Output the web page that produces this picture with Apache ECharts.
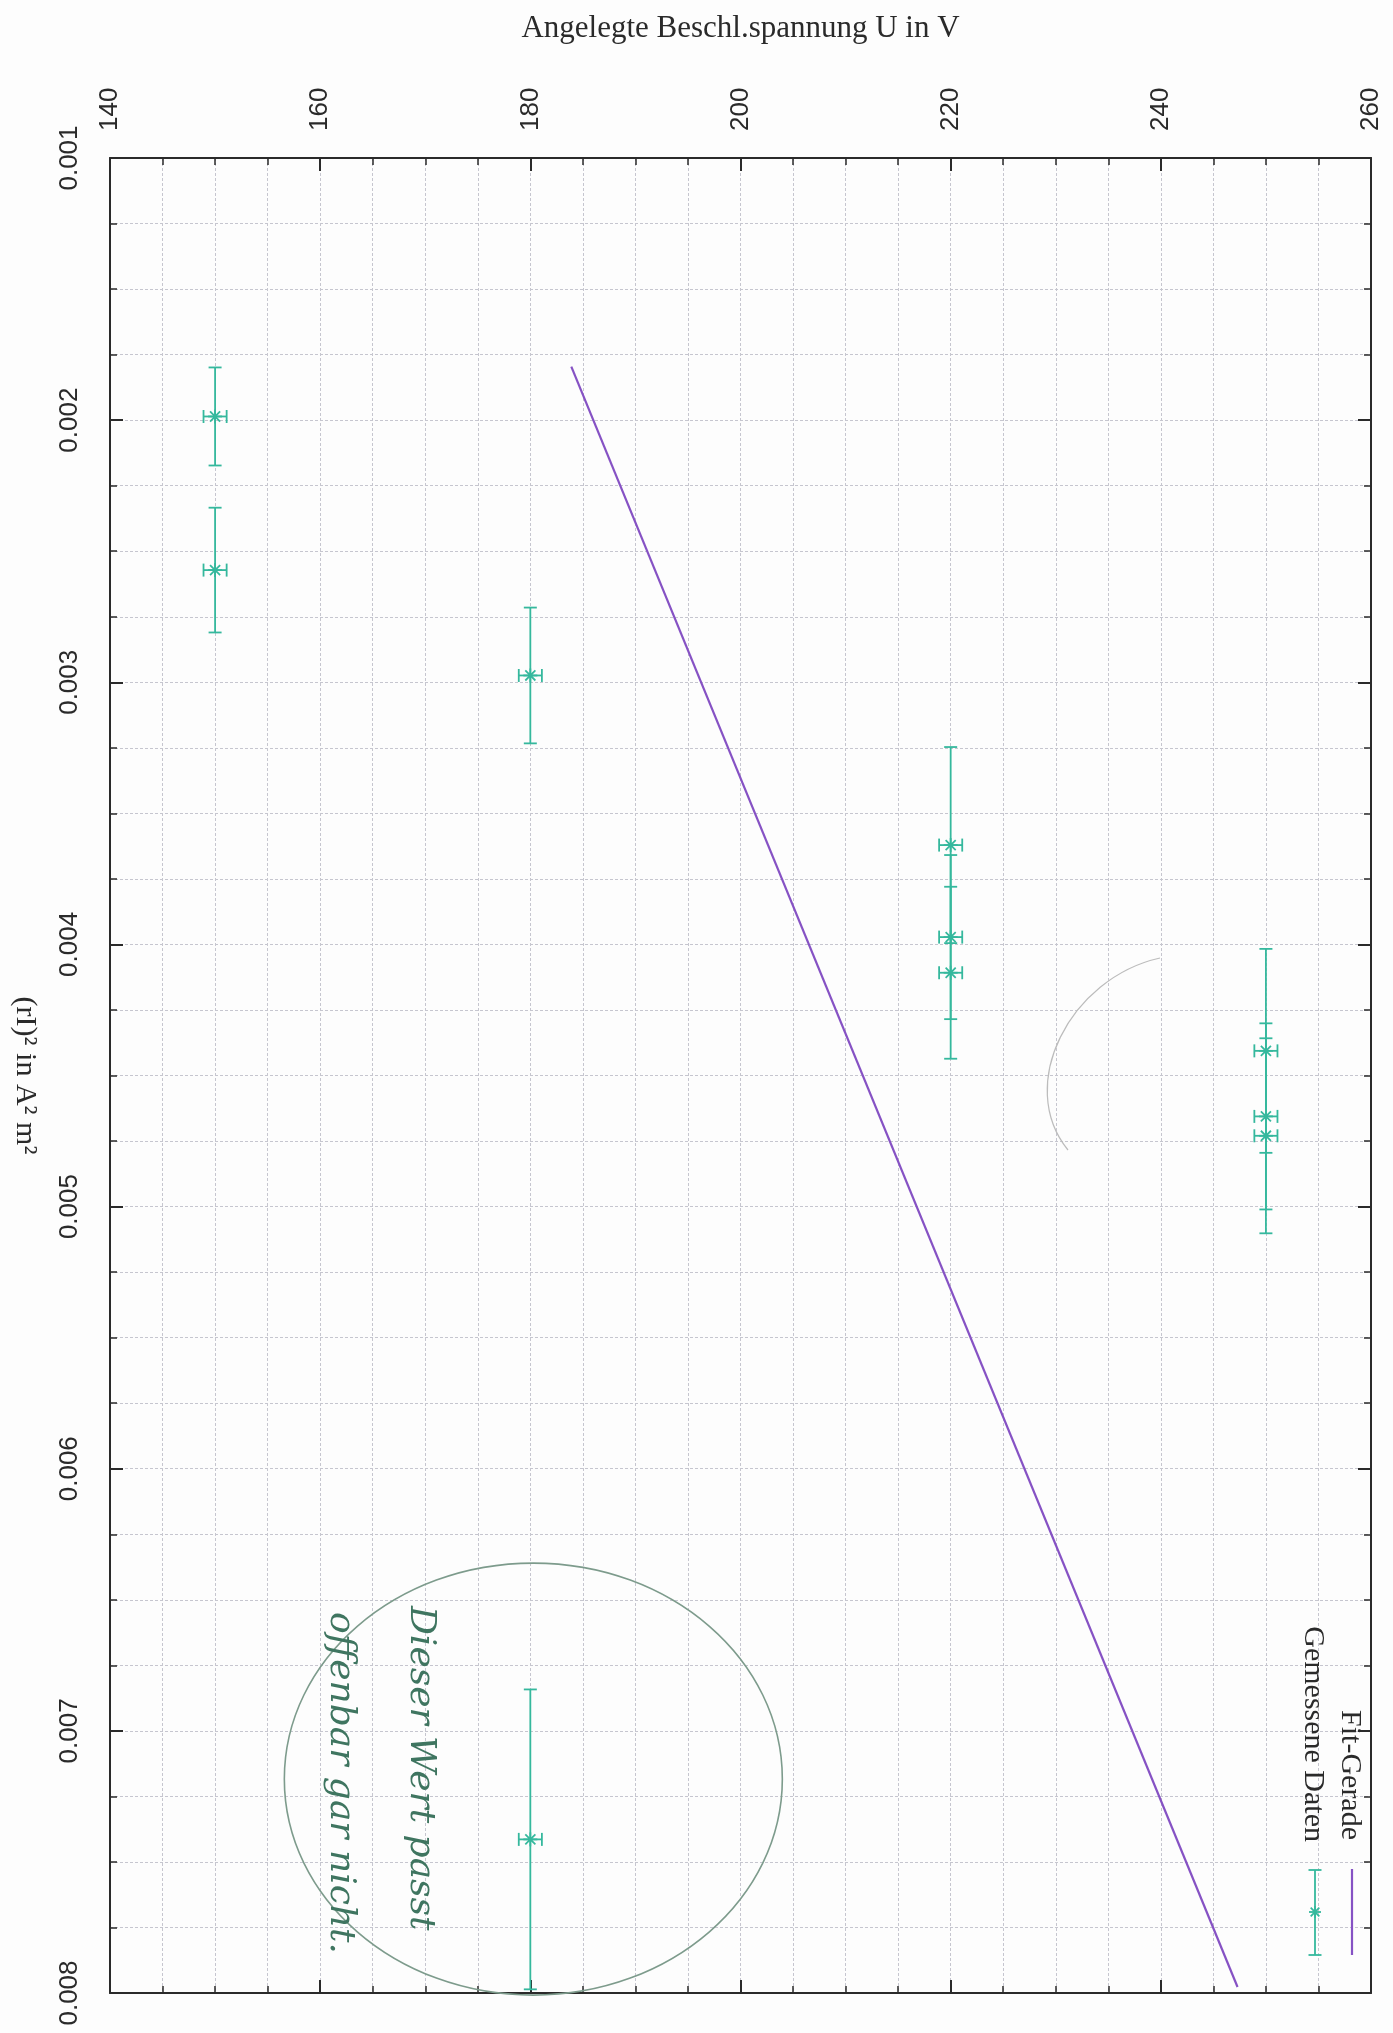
<!DOCTYPE html>
<html>
<head>
<meta charset="utf-8">
<script src="https://cdn.jsdelivr.net/npm/echarts@6/dist/echarts.min.js"></script>
<style>
html,body{margin:0;padding:0;background:#fdfdfd;}
#chart{width:1393px;height:2033px;}
</style>
</head>
<body>
<div id="chart"></div>
<script>
// ---- data ----
const voltageTicks = [140, 160, 180, 200, 220, 240, 260];
const rI2Ticks = [0.001, 0.002, 0.003, 0.004, 0.005, 0.006, 0.007, 0.008];

// measured data: accelerating voltage U (V), (rI)^2 (A^2 m^2) and their errors
const voltage    = [150, 150, 180, 220, 220, 220, 250, 250, 250, 180];
const voltageErr = [1.1, 1.1, 1.1, 1.1, 1.1, 1.1, 1.1, 1.1, 1.1, 1.1];
const rI2        = [0.001986, 0.002572, 0.002974, 0.003621, 0.003972, 0.004108, 0.004406, 0.004656, 0.004730, 0.007414];
const rI2Err     = [0.000187, 0.000238, 0.000259, 0.000374, 0.000313, 0.000328, 0.000389, 0.000355, 0.000372, 0.000572];

// fit line end points
const fitVoltage = [183.9, 247.3];
const fitRI2     = [0.001796, 0.007977];

const seriesNames = ['Fit-Gerade', 'Gemessene Daten'];
const xTitle = 'Angelegte Beschl.spannung U in V';
const yTitle = '(rI)² in A² m²';
const noteLines = ['Dieser Wert passt', 'offenbar gar nicht.'];

// ---- styles ----
const FIT_COLOR = '#8652c4';
const DATA_COLOR = '#35b89d';
const AXIS_COLOR = '#2a2a2a';
const GRID_COLOR = '#c6c6cf';
const SERIF = 'Liberation Serif';
const SANS = 'Liberation Sans';

const chart = echarts.init(document.getElementById('chart'), null, {renderer: 'canvas'});

const gridLine = {show: true, lineStyle: {color: GRID_COLOR, width: 1, type: [3, 2]}};

function valueAxisBase(min, max, interval) {
  return {
    type: 'value', min: min, max: max, interval: interval,
    axisLine: {show: true, onZero: false, lineStyle: {color: AXIS_COLOR, width: 2}},
    axisTick: {show: true, inside: true, length: 13, lineStyle: {color: AXIS_COLOR, width: 2}},
    minorTick: {show: true, splitNumber: 4, length: 7, lineStyle: {color: AXIS_COLOR, width: 1.5}}
  };
}

const xMain = Object.assign(valueAxisBase(voltageTicks[0], voltageTicks[voltageTicks.length - 1], voltageTicks[1] - voltageTicks[0]), {
  position: 'top',
  axisLabel: {
    show: true, rotate: -90, margin: 27, color: '#2a2a2a',
    fontFamily: SANS, fontSize: 26, hideOverlap: false,
    showMinLabel: true, showMaxLabel: true,
    formatter: v => String(Math.round(v))
  },
  splitLine: gridLine,
  minorSplitLine: gridLine,
  name: xTitle, nameLocation: 'middle', nameGap: 114,
  nameTextStyle: {fontFamily: SERIF, fontSize: 31, color: '#2a2a2a'}
});
const xMirror = Object.assign(valueAxisBase(voltageTicks[0], voltageTicks[voltageTicks.length - 1], voltageTicks[1] - voltageTicks[0]), {
  position: 'bottom',
  axisLabel: {show: false},
  splitLine: {show: false}, minorSplitLine: {show: false}
});

const yStep = +(rI2Ticks[1] - rI2Ticks[0]).toFixed(6);
const yMain = Object.assign(valueAxisBase(rI2Ticks[0], rI2Ticks[rI2Ticks.length - 1], yStep), {
  position: 'left', inverse: true,
  axisLabel: {
    show: true, rotate: 90, margin: 27, color: '#2a2a2a',
    fontFamily: SANS, fontSize: 26, hideOverlap: false,
    showMinLabel: true, showMaxLabel: true,
    formatter: v => v.toFixed(3)
  },
  splitLine: gridLine,
  minorSplitLine: gridLine,
  name: yTitle, nameLocation: 'middle', nameGap: 70, nameRotate: -90,
  nameTextStyle: {fontFamily: SERIF, fontSize: 30, color: '#2a2a2a'}
});
const yMirror = Object.assign(valueAxisBase(rI2Ticks[0], rI2Ticks[rI2Ticks.length - 1], yStep), {
  position: 'right', inverse: true,
  axisLabel: {show: false},
  splitLine: {show: false}, minorSplitLine: {show: false}
});

const errData = voltage.map((u, i) => [u, rI2[i], voltageErr[i], rI2Err[i]]);
const fitData = fitVoltage.map((u, i) => [u, fitRI2[i]]);

function starChildren(cx, cy, s, style) {
  const d = s * 0.72;
  return [
    {type: 'line', shape: {x1: cx - s, y1: cy, x2: cx + s, y2: cy}, style: style},
    {type: 'line', shape: {x1: cx, y1: cy - s, x2: cx, y2: cy + s}, style: style},
    {type: 'line', shape: {x1: cx - d, y1: cy - d, x2: cx + d, y2: cy + d}, style: style},
    {type: 'line', shape: {x1: cx - d, y1: cy + d, x2: cx + d, y2: cy - d}, style: style}
  ];
}

function renderErr(params, api) {
  const u = api.value(0), r = api.value(1), du = api.value(2), dr = api.value(3);
  const c = api.coord([u, r]);
  const p1 = api.coord([u, r - dr]);
  const p2 = api.coord([u, r + dr]);
  const q1 = api.coord([u - du, r]);
  const q2 = api.coord([u + du, r]);
  const cap = 6.5;
  const st = {stroke: DATA_COLOR, lineWidth: 1.8, fill: null};
  const kids = [
    {type: 'line', shape: {x1: p1[0], y1: p1[1], x2: p2[0], y2: p2[1]}, style: st},
    {type: 'line', shape: {x1: p1[0] - cap, y1: p1[1], x2: p1[0] + cap, y2: p1[1]}, style: st},
    {type: 'line', shape: {x1: p2[0] - cap, y1: p2[1], x2: p2[0] + cap, y2: p2[1]}, style: st},
    {type: 'line', shape: {x1: q1[0], y1: q1[1], x2: q2[0], y2: q2[1]}, style: st},
    {type: 'line', shape: {x1: q1[0], y1: q1[1] - cap, x2: q1[0], y2: q1[1] + cap}, style: st},
    {type: 'line', shape: {x1: q2[0], y1: q2[1] - cap, x2: q2[0], y2: q2[1] + cap}, style: st}
  ].concat(starChildren(c[0], c[1], 7, st));
  kids.push({type: 'circle', shape: {cx: c[0], cy: c[1], r: 2.2}, style: {fill: DATA_COLOR}});
  return {type: 'group', children: kids};
}

chart.setOption({
  animation: false,
  backgroundColor: '#fdfdfd',
  grid: {left: 110, top: 158, right: 22, bottom: 40, containLabel: false},
  xAxis: [xMain, xMirror],
  yAxis: [yMain, yMirror],
  series: [
    {
      name: seriesNames[0], type: 'line', xAxisIndex: 0, yAxisIndex: 0,
      data: fitData, showSymbol: false, symbol: 'none', z: 3,
      lineStyle: {color: FIT_COLOR, width: 2.2}
    },
    {
      name: seriesNames[1], type: 'custom', xAxisIndex: 0, yAxisIndex: 0,
      data: errData, renderItem: renderErr, encode: {x: 0, y: 1}, z: 4
    }
  ]
});

// ---- legend (rotated like the scanned page) and handwritten note ----
function rotText(x, y, text, align, font, color) {
  return {
    type: 'text', x: x, y: y, rotation: -Math.PI / 2, z: 10,
    style: {text: text, align: align, verticalAlign: 'middle', font: font, fill: color}
  };
}
const legendStyle = {stroke: DATA_COLOR, lineWidth: 1.8, fill: null};
const graphics = [
  rotText(1350, 1840, seriesNames[0], 'right', '30px "' + SERIF + '"', '#2a2a2a'),
  {type: 'line', z: 10, shape: {x1: 1352, y1: 1869, x2: 1352, y2: 1955}, style: {stroke: FIT_COLOR, lineWidth: 2.2}},
  rotText(1313, 1842, seriesNames[1], 'right', '30px "' + SERIF + '"', '#2a2a2a'),
  {type: 'line', z: 10, shape: {x1: 1315, y1: 1870, x2: 1315, y2: 1955}, style: legendStyle},
  {type: 'line', z: 10, shape: {x1: 1308.5, y1: 1870, x2: 1321.5, y2: 1870}, style: legendStyle},
  {type: 'line', z: 10, shape: {x1: 1308.5, y1: 1955, x2: 1321.5, y2: 1955}, style: legendStyle}
].concat(starChildren(1315, 1912, 6, legendStyle).map(e => Object.assign(e, {z: 10})));

const center = chart.convertToPixel({xAxisIndex: 0, yAxisIndex: 0}, [voltage[9], rI2[9] - 0.00023]);
graphics.push({
  type: 'ellipse', z: 9,
  shape: {cx: center[0] + 3, cy: center[1], rx: 249, ry: 216},
  style: {stroke: '#7d9b8c', lineWidth: 1.6, fill: null}
});
graphics.push({
  type: 'bezierCurve', z: 9,
  shape: {x1: 1160, y1: 958, cpx1: 1070, cpy1: 978, cpx2: 1015, cpy2: 1085, x2: 1068, y2: 1150},
  style: {stroke: '#bcbcbc', lineWidth: 1.2, fill: null}
});
graphics.push(rotText(420, 1606, noteLines[0], 'left', 'italic 36px "DejaVu Serif"', '#3f7560'));
graphics.push(rotText(340, 1612, noteLines[1], 'left', 'italic 36px "DejaVu Serif"', '#3f7560'));

chart.setOption({graphic: graphics});
</script>
</body>
</html>
